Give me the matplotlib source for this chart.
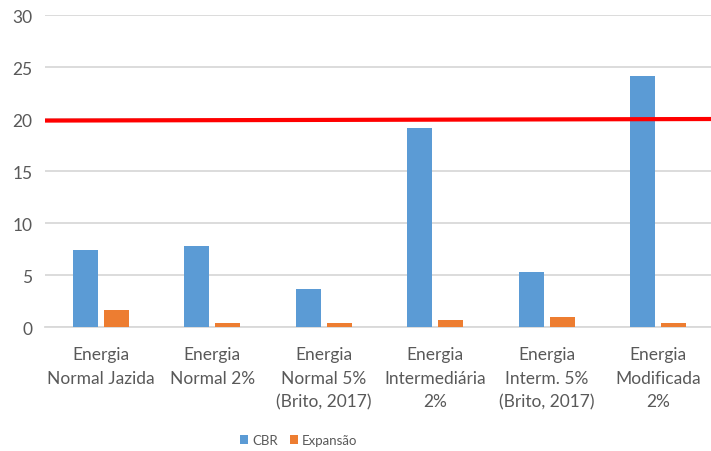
import numpy as np
import matplotlib.pyplot as plt

# Ensaios CBR e expansão por energia de compactação
categorias = ["Energia\nNormal Jazida", "Energia\nNormal 2%", "Energia\nNormal 5%\n(Brito, 2017)",
              "Energia\nIntermediária\n2%", "Energia\nInterm. 5%\n(Brito, 2017)", "Energia\nModificada\n2%"]
cbr = [7.4, 7.8, 3.65, 19.1, 5.25, 24.1]
expansao = [1.65, 0.4, 0.4, 0.7, 1.0, 0.4]
limite = [19.85, 20.0]   # linha de referência (início, fim)

azul = '#5B9BD5'
laranja = '#ED7D31'
cinza = '#D9D9D9'
texto = '#595959'

plt.rcParams['font.family'] = ['Lato', 'DejaVu Sans']

fig = plt.figure(figsize=(7.11, 4.52), dpi=100)
ax = fig.add_axes([0.0633, 0.2743, 0.941, 0.6903])

x = np.arange(len(categorias))
w = 0.225
ax.bar(x - 0.14, cbr, w, color=azul, label='CBR', zorder=3)
ax.bar(x + 0.14, expansao, w, color=laranja, label='Expansão', zorder=3)

ax.plot([-0.5, len(categorias) - 0.5], limite, color='#FF0000', lw=3, zorder=4,
        solid_capstyle='butt')

ax.set_xlim(-0.5, len(categorias) - 0.5)
ax.set_ylim(0, 30)
ax.set_yticks(range(0, 31, 5))
ax.grid(axis='y', color=cinza, lw=1.3, zorder=0)
ax.set_axisbelow(True)
for s in ['top', 'right', 'left']:
    ax.spines[s].set_visible(False)
ax.spines['bottom'].set_color(cinza)
ax.spines['bottom'].set_linewidth(1.3)
ax.tick_params(axis='y', length=0, pad=9, labelsize=12.5, labelcolor=texto)
ax.tick_params(axis='x', length=0, pad=14, labelsize=12.5, labelcolor=texto)
ax.set_xticks(x)
ax.set_xticklabels(categorias, linespacing=1.55, va='top')

fig.legend(loc='center', bbox_to_anchor=(0.42, 0.024), ncol=2, frameon=False,
           fontsize=9.5, labelcolor=texto, handlelength=0.6, handleheight=0.6,
           handletextpad=0.3, columnspacing=0.9)

plt.savefig('out.png', dpi=100)
